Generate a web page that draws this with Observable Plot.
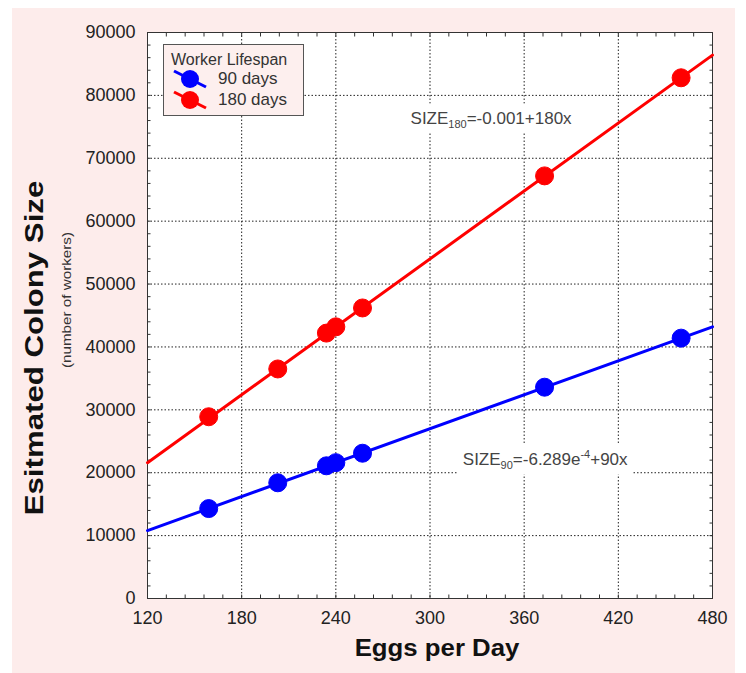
<!DOCTYPE html>
<html><head><meta charset="utf-8">
<script src="https://cdn.jsdelivr.net/npm/d3@7"></script>
<script src="https://cdn.jsdelivr.net/npm/@observablehq/plot@0.6"></script>
<style>
body{margin:0;background:#fff;font-family:"Liberation Sans",Arial,sans-serif;}
#wrap{position:relative;width:746px;height:673px;overflow:hidden;}
#bg{position:absolute;left:12px;top:8px;width:723px;height:665px;background:#fdeceb;}
#chart{position:absolute;left:0;top:0;}
.lbl{position:absolute;white-space:nowrap;color:#111;text-align:center;}
#legend{position:absolute;left:163px;top:44px;width:139px;height:70px;border:1px solid #555;background:#fdefee;color:#333;}
#legend .ttl{position:absolute;left:7px;top:6px;font-size:16px;}
#legend .row{position:absolute;left:9px;height:20px;font-size:17px;}
#legend .row svg{position:absolute;left:0;top:0;}
#legend .row span{position:absolute;left:45px;top:0px;white-space:nowrap;}
</style></head>
<body>
<div id="wrap">
  <div id="bg"></div>
  <div id="chart"></div>
  <div class="lbl" id="ylab" style="left:-166px;top:332px;width:400px;height:32px;line-height:32px;font-size:26px;font-weight:bold;transform:rotate(-90deg) scaleX(1.2);">Esitmated Colony Size</div>
  <div class="lbl" id="ysub" style="left:-133px;top:292px;width:400px;height:16px;line-height:16px;font-size:13px;color:#333;transform:rotate(-90deg) scaleX(1.17);">(number of workers)</div>
  <div class="lbl" id="xlab" style="left:237px;top:633px;width:400px;height:30px;line-height:30px;font-size:23px;font-weight:bold;transform:scaleX(1.12);">Eggs per Day</div>
  <div id="legend"></div>
</div>
<script>
// ---- data ----
const eggs = [159, 203, 234, 240, 257, 373, 460];
const size90 = [14300, 18400, 21100, 21600, 23100, 33600, 41400];
const size180 = [28900, 36500, 42200, 43200, 46200, 67200, 82800];
const fitX = [120, 480];
const fit90 = [10800, 43200];
const fit180 = [21600, 86400];
const seriesNames = ["90 days", "180 days"];
const seriesColors = ["#0000ff", "#ff0000"];
const legendTitle = "Worker Lifespan";
const xTicks = [120, 180, 240, 300, 360, 420, 480];
const yTicks = [0, 10000, 20000, 30000, 40000, 50000, 60000, 70000, 80000, 90000];
const xMinor = d3.range(120, 481, 12);
const yMinor = d3.range(0, 90001, 2000);
const eqX = [287.6, 320.9];
const eqY = [75500, 21150];
const eqParts = [
  [["SIZE", ""], ["180", "sub"], ["=-0.001+180x", ""]],
  [["SIZE", ""], ["90", "sub"], ["=-6.289e", ""], ["-4", "sup"], ["+90x", ""]]
];

const pts = [];
eggs.forEach((e, i) => { pts.push({x: e, y: size90[i], s: 0}); pts.push({x: e, y: size180[i], s: 1}); });
const fits = [];
fitX.forEach((x, i) => { fits.push({x, y: fit90[i], s: 0}); fits.push({x, y: fit180[i], s: 1}); });
const eqTexts = eqParts.map(p => p.map(q => q[0]).join(""));
const eqs = eqX.map((x, i) => ({x, y: eqY[i], t: eqTexts[i]}));

const tickStyle = {stroke: "#333", strokeWidth: 1, tickFormat: () => ""};
const gridStyle = {stroke: "#222", strokeOpacity: 1, strokeWidth: 1, strokeDasharray: "1.5,2"};

const plot = Plot.plot({
  width: 746, height: 673,
  marginLeft: 147, marginRight: 34, marginTop: 32, marginBottom: 75,
  style: {background: "transparent", fontFamily: "'Liberation Sans', Arial, sans-serif", color: "#222"},
  x: {domain: [120, 480], label: null},
  y: {domain: [0, 90000], label: null},
  marks: [
    Plot.frame({fill: "white"}),
    Plot.gridX(xTicks.slice(1, -1), gridStyle),
    Plot.gridY(yTicks.slice(1, -1), gridStyle),
    Plot.axisX(xMinor, {anchor: "bottom", tickSize: -3.5, ...tickStyle}),
    Plot.axisX(xMinor, {anchor: "top", tickSize: -3.5, ...tickStyle}),
    Plot.axisY(yMinor, {anchor: "left", tickSize: -3.5, ...tickStyle}),
    Plot.axisY(yMinor, {anchor: "right", tickSize: -3.5, ...tickStyle}),
    Plot.axisX(xTicks, {anchor: "bottom", tickSize: 0, tickPadding: 13, fontSize: 18, fill: "#222", label: null}),
    Plot.axisY(yTicks, {anchor: "left", tickSize: 0, tickPadding: 12, fontSize: 18, fill: "#222", label: null, tickFormat: d3.format("d")}),
    Plot.frame({stroke: "#333", strokeWidth: 1}),
    Plot.text(eqs, {x: "x", y: "y", text: "t", textAnchor: "start", lineAnchor: "bottom", fontSize: 17, fill: "#444"}),
    Plot.line(fits.filter(d => d.s === 0), {x: "x", y: "y", stroke: seriesColors[0], strokeWidth: 3}),
    Plot.line(fits.filter(d => d.s === 1), {x: "x", y: "y", stroke: seriesColors[1], strokeWidth: 3}),
    Plot.dot(pts, {x: "x", y: "y", r: 9, fill: d => seriesColors[d.s], stroke: d => seriesColors[d.s], strokeWidth: 1})
  ]
});
document.getElementById("chart").appendChild(plot);

// equations: subscripts/superscripts + white background
const ns = "http://www.w3.org/2000/svg";
Array.from(plot.querySelectorAll("text")).forEach(el => {
  const i = eqTexts.indexOf(el.textContent);
  if (i < 0) return;
  const parts = eqParts[i];
  while (el.firstChild) el.removeChild(el.firstChild);
  let shift = 0;
  parts.forEach(([str, kind]) => {
    const ts = document.createElementNS(ns, "tspan");
    const target = kind === "sub" ? 4 : kind === "sup" ? -7 : 0;
    if (target !== shift) ts.setAttribute("dy", target - shift);
    shift = target;
    if (kind) ts.setAttribute("font-size", 11);
    ts.textContent = str;
    el.appendChild(ts);
  });
  const b = el.getBBox();
  const r = document.createElementNS(ns, "rect");
  r.setAttribute("x", b.x - 5); r.setAttribute("y", b.y - 5);
  r.setAttribute("width", b.width + 10); r.setAttribute("height", b.height + 8);
  r.setAttribute("fill", "white");
  const tr = el.getAttribute("transform");
  if (tr) r.setAttribute("transform", tr);
  el.parentNode.insertBefore(r, el);
});

// legend
const lg = document.getElementById("legend");
lg.innerHTML = `<div class="ttl">${legendTitle}</div>` + seriesNames.map((n, i) => `
  <div class="row" style="top:${24 + i * 21}px;width:130px;">
    <svg width="36" height="20"><line x1="1" y1="2" x2="33" y2="18" stroke="${seriesColors[i]}" stroke-width="3"/>
    <circle cx="17" cy="10" r="9" fill="${seriesColors[i]}"/></svg>
    <span>${n}</span></div>`).join("");
</script>
</body></html>
